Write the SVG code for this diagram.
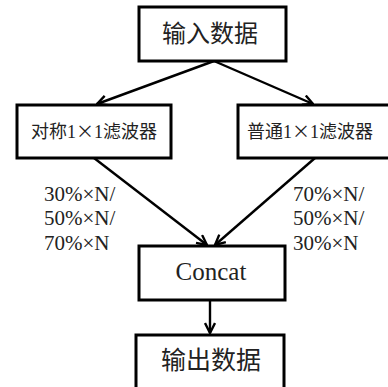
<svg xmlns="http://www.w3.org/2000/svg" width="388" height="387" viewBox="0 0 388 387">
  <style>
    .box { fill: #fff; stroke: #000; stroke-width: 3; }
    .conn { stroke: #000; stroke-width: 2.4; fill: none; marker-end: url(#arr); }
    .cjk { font-family: "Liberation Serif", "Noto Sans CJK SC", serif; fill: #222; }
    .x { font-family: "Noto Sans CJK SC", sans-serif; }
    .lbl { font-family: "Liberation Serif", serif; font-size: 21px; fill: #222; }
  </style>
  <defs>
    <marker id="arr" viewBox="0 0 12 12" refX="11" refY="6" markerWidth="12" markerHeight="12" markerUnits="userSpaceOnUse" orient="auto">
      <polyline points="1,1 11,6 1,11" fill="none" stroke="#000" stroke-width="2.4"/>
    </marker>
  </defs>
  <rect width="388" height="387" fill="#fff"/>
  <g id="connectors">
    <line class="conn" x1="214" y1="61" x2="97" y2="104"/>
    <line class="conn" x1="214" y1="61" x2="313" y2="104"/>
    <line class="conn" x1="94" y1="158" x2="207" y2="245"/>
    <line class="conn" x1="315" y1="158" x2="215" y2="245"/>
    <line class="conn" x1="210" y1="300" x2="210" y2="333"/>
  </g>
  <g id="input">
    <rect class="box" x="139" y="7" width="147" height="54"/>
    <text class="cjk" x="210" y="42" font-size="24" text-anchor="middle">输入数据</text>
  </g>
  <g id="sym-filter">
    <rect class="box" x="17" y="105" width="154" height="53"/>
    <text class="cjk" x="94" y="138" font-size="18" text-anchor="middle">对称1<tspan class="x">×</tspan>1滤波器</text>
  </g>
  <g id="normal-filter">
    <rect class="box" x="238" y="105" width="156" height="53"/>
    <text class="cjk" x="310" y="138" font-size="18" text-anchor="middle">普通1<tspan class="x">×</tspan>1滤波器</text>
  </g>
  <g id="labels-left">
    <text class="lbl" x="44" y="201">30%×N/</text>
    <text class="lbl" x="44" y="225">50%×N/</text>
    <text class="lbl" x="44" y="250">70%×N</text>
  </g>
  <g id="labels-right">
    <text class="lbl" x="293" y="201">70%×N/</text>
    <text class="lbl" x="293" y="225">50%×N/</text>
    <text class="lbl" x="293" y="250">30%×N</text>
  </g>
  <g id="concat">
    <rect class="box" x="139" y="246" width="146" height="54"/>
    <text class="cjk" x="211" y="280" font-size="25" text-anchor="middle">Concat</text>
  </g>
  <g id="output">
    <rect class="box" x="136" y="335" width="148" height="60"/>
    <text class="cjk" x="211" y="369" font-size="25" text-anchor="middle">输出数据</text>
  </g>
</svg>
